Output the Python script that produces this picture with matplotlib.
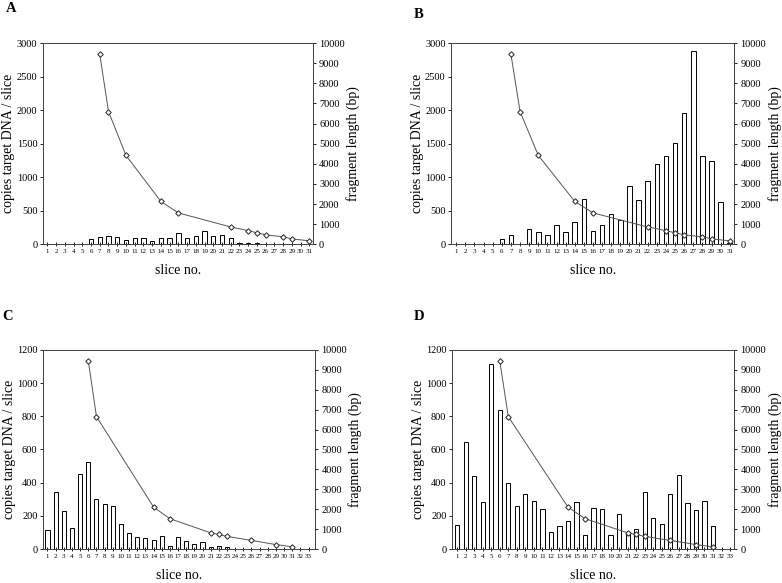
import matplotlib
matplotlib.use("Agg")
import matplotlib.pyplot as plt

plt.rcParams["font.family"] = ["Liberation Serif", "DejaVu Serif"]

# ---- data ----
slices_31 = list(range(1, 32))
slices_33 = list(range(1, 34))

copies_a = [5, 3, 10, 10, 5, 80, 105, 125, 105, 65, 95, 95, 55, 95, 95,
            165, 100, 120, 195, 120, 135, 95, 25, 25, 25, 0, 0, 0, 0, 0, 0]
copies_b = [0, 0, 0, 0, 0, 85, 135, 0, 225, 180, 135, 285, 180, 325, 675,
            195, 285, 450, 360, 865, 660, 950, 1200, 1320, 1515, 1960, 2880,
            1320, 1240, 630, 25]
copies_c = [115, 347, 228, 129, 454, 525, 301, 271, 259, 150, 95, 71, 69,
            55, 81, 22, 71, 50, 30, 46, 14, 22, 16, 0, 0, 0, 0, 0, 0, 0, 0,
            0, 0]
copies_d = [145, 647, 438, 282, 1115, 837, 399, 260, 335, 288, 244, 103,
            141, 169, 284, 85, 248, 240, 85, 210, 105, 121, 345, 188, 151,
            335, 444, 278, 238, 288, 141, 0, 0]

# size-marker positions (slice) and fragment lengths (bp)
marker_slices_ab = [7, 8, 10, 14, 16, 22, 24, 25, 26, 28, 29, 31]
marker_bp_ab = [9450, 6600, 4420, 2130, 1560, 860, 680, 570, 470, 370, 270, 170]
marker_slices_cd = [6, 7, 14, 16, 21, 22, 23, 26, 29, 31]
marker_bp_cd = [9450, 6650, 2110, 1530, 820, 740, 640, 440, 230, 120]

panels = [
    ("A", [0.055, 0.581, 0.345, 0.345], slices_31, copies_a, 3000, 500,
     marker_slices_ab, marker_bp_ab, (0.5, 31.4), (6, 575)),
    ("B", [0.577, 0.581, 0.362, 0.345], slices_31, copies_b, 3000, 500,
     marker_slices_ab, marker_bp_ab, (0.45, 31.5), (414, 568)),
    ("C", [0.055, 0.058, 0.348, 0.342], slices_33, copies_c, 1200, 200,
     marker_slices_cd, marker_bp_cd, (0.45, 33.8), (2, 266)),
    ("D", [0.578, 0.058, 0.361, 0.342], slices_33, copies_d, 1200, 200,
     marker_slices_cd, marker_bp_cd, (0.4, 33.5), (414, 266)),
]

fig = plt.figure(figsize=(7.82, 5.83), dpi=100)

for (letter, rect, xs, copies, ymax, ystep,
     m_x, m_bp, xlim, letter_px) in panels:
    ax = fig.add_axes(rect)
    ax.bar(xs, copies, width=0.5, facecolor="white", edgecolor="black",
           linewidth=0.7)
    ax.set_xlim(*xlim)
    ax.set_ylim(0, ymax)
    ax.set_yticks(range(0, ymax + 1, ystep))
    ax.set_xticks(xs)
    ax.set_xticklabels([str(s) for s in xs], fontsize=5)
    ax.tick_params(axis="x", direction="inout", length=3, width=0.6, pad=2)
    ax.tick_params(axis="y", direction="out", length=2.5, width=0.6,
                   labelsize=7.5, pad=1.5)
    for sp in ax.spines.values():
        sp.set_linewidth(0.7)
        sp.set_color("#444444")
    ax.set_ylabel("copies target DNA / slice", fontsize=10, labelpad=1)
    ax.set_xlabel("slice no.", fontsize=10, labelpad=7)

    ax2 = ax.twinx()
    ax2.plot(m_x, m_bp, color="#555555", linewidth=0.7, marker="D",
             markersize=2.8, markerfacecolor="white",
             markeredgecolor="#222222", markeredgewidth=0.7)
    ax2.set_ylim(0, 10000)
    ax2.set_yticks(range(0, 10001, 1000))
    ax2.tick_params(axis="y", direction="out", length=2.5, width=0.6,
                    labelsize=7.5, pad=2)
    ax2.set_ylabel("fragment length (bp)", fontsize=10, labelpad=1)
    for sp in ax2.spines.values():
        sp.set_linewidth(0.7)
        sp.set_color("#444444")

    fig.text(letter_px[0] / 782, letter_px[1] / 583, letter,
             fontsize=10.5, fontweight="bold", ha="left", va="center")

fig.savefig("out.png", dpi=100)
